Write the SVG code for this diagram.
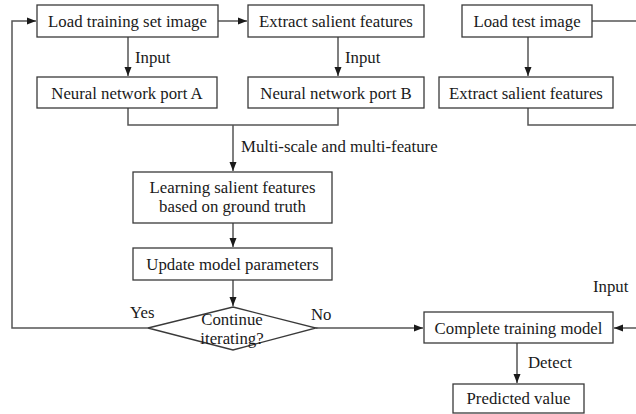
<svg xmlns="http://www.w3.org/2000/svg" width="636" height="414" viewBox="0 0 636 414">
<defs>
<style>
.box{fill:#fff;stroke:#3a3a3a;stroke-width:1.3}
.t{font-family:"Liberation Serif","Times New Roman",serif;font-size:16.8px;fill:#1a1a1a}
.c{text-anchor:middle}
.ln{fill:none;stroke:#555;stroke-width:1.5}
</style>
<marker id="ah" markerWidth="10" markerHeight="10" refX="9" refY="5" orient="auto" markerUnits="userSpaceOnUse">
<path d="M0,1.5 L9,5 L0,8.5 Z" fill="#1a1a1a"/>
</marker>
</defs>
<rect width="636" height="414" fill="#fff"/>
<g id="connectors">
<path class="ln" d="M218,21 H247" marker-end="url(#ah)"/>
<path class="ln" d="M128,37 V76" marker-end="url(#ah)"/>
<path class="ln" d="M338,37 V76" marker-end="url(#ah)"/>
<path class="ln" d="M528,37 V76" marker-end="url(#ah)"/>
<path class="ln" d="M592,21 H636"/>
<path class="ln" d="M128,108 V125 H338 V108"/>
<path class="ln" d="M528,108 V125 H636"/>
<path class="ln" d="M233,125 V171" marker-end="url(#ah)"/>
<path class="ln" d="M233,223 V247" marker-end="url(#ah)"/>
<path class="ln" d="M233,280 V306" marker-end="url(#ah)"/>
<path class="ln" d="M148,328 H12 V21 H36" marker-end="url(#ah)"/>
<path class="ln" d="M316,328 H423" marker-end="url(#ah)"/>
<path class="ln" d="M636,328 H614" marker-end="url(#ah)"/>
<path class="ln" d="M517,343 V383" marker-end="url(#ah)"/>
<text class="t" x="135" y="63">Input</text>
<text class="t" x="345" y="63">Input</text>
<text class="t" x="241" y="152">Multi-scale and multi-feature</text>
<text class="t" x="130" y="318">Yes</text>
<text class="t" x="311" y="320">No</text>
<text class="t" x="593" y="292">Input</text>
<text class="t" x="528" y="368">Detect</text>
</g>
<g id="load-train"><rect class="box" x="37" y="5" width="181" height="32"/><text class="t c" x="127.5" y="27">Load training set image</text></g>
<g id="extract-train"><rect class="box" x="248" y="5" width="176" height="32"/><text class="t c" x="336" y="27">Extract salient features</text></g>
<g id="load-test"><rect class="box" x="462" y="5" width="130" height="32"/><text class="t c" x="527" y="27">Load test image</text></g>
<g id="port-a"><rect class="box" x="37" y="77" width="180" height="31"/><text class="t c" x="127" y="98.5">Neural network port A</text></g>
<g id="port-b"><rect class="box" x="248" y="77" width="176" height="31"/><text class="t c" x="336" y="98.5">Neural network port B</text></g>
<g id="extract-test"><rect class="box" x="439" y="77" width="174" height="31"/><text class="t c" x="526" y="98.5">Extract salient features</text></g>
<g id="learning"><rect class="box" x="133" y="172" width="199" height="51"/><text class="t c" x="232.5" y="193">Learning salient features</text><text class="t c" x="232.5" y="212">based on ground truth</text></g>
<g id="update"><rect class="box" x="133" y="248" width="199" height="32"/><text class="t c" x="232.5" y="270">Update model parameters</text></g>
<g id="decision"><polygon class="box" points="233,307 316,328 233,350 148,328"/><text class="t c" x="232" y="325">Continue</text><text class="t c" x="232" y="344">iterating?</text></g>
<g id="complete"><rect class="box" x="424" y="312" width="189" height="31"/><text class="t c" x="518.5" y="333.5">Complete training model</text></g>
<g id="predicted"><rect class="box" x="453" y="384" width="131" height="29"/><text class="t c" x="518.5" y="404">Predicted value</text></g>
</svg>
